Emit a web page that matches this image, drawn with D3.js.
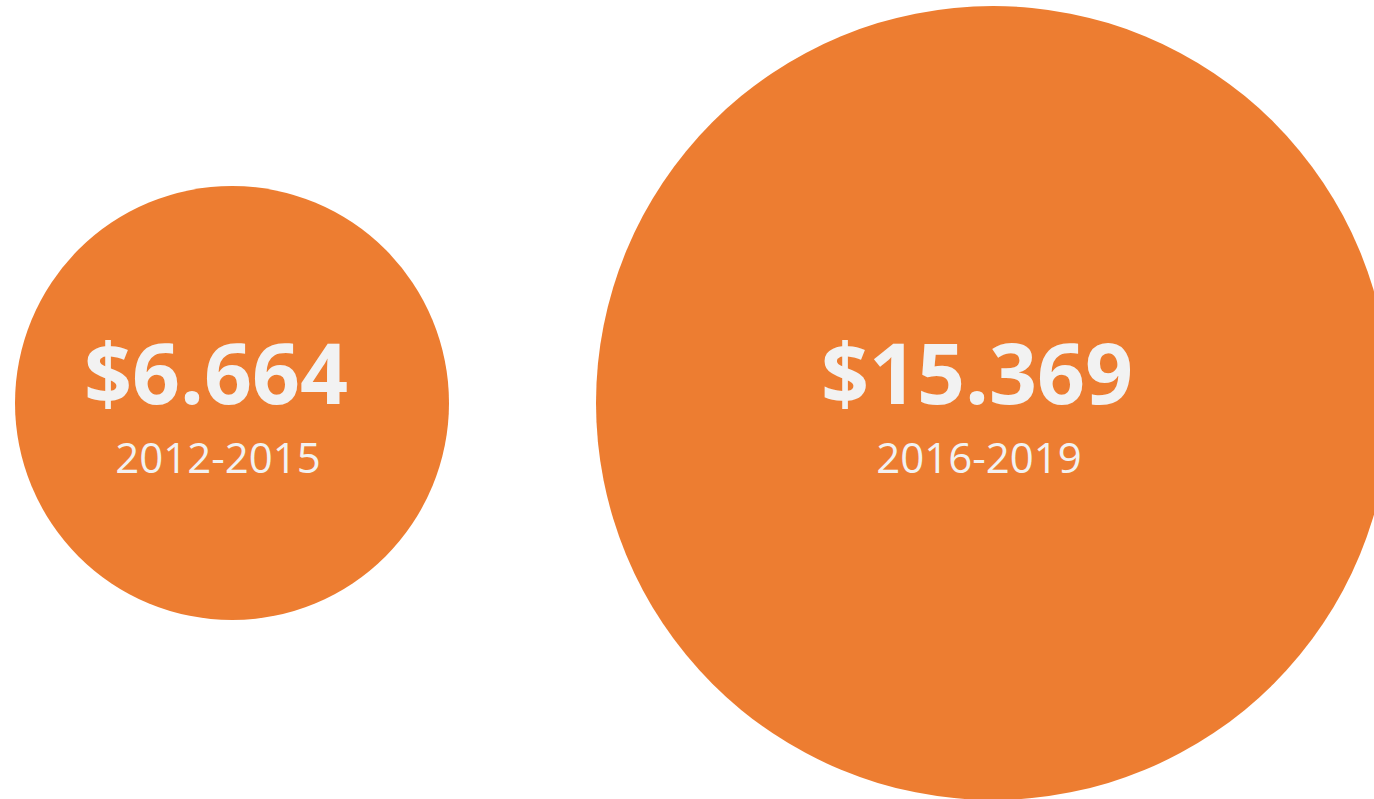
<!DOCTYPE html>
<html lang="en">
<head>
  <meta charset="UTF-8">
  <title>Bubbles</title>
  <script src="https://cdn.jsdelivr.net/npm/d3@7"></script>
  <style>
    html, body { margin: 0; padding: 0; background: #fff; overflow: hidden; }
    svg { display: block; }
  </style>
</head>
<body>
  <script>
    const periods = ["2012-2015", "2016-2019"];
    const amounts = [6.664, 15.369];
    const amountLabels = ["$6.664", "$15.369"];

    const width = 1374;
    const height = 799;

    const svg = d3.select("body")
                  .append("svg")
                  .attr("width", width)
                  .attr("height", height);

    const x = d3.scalePoint()
                .domain(periods)
                .range([232, 993]);

    const r = d3.scaleLinear()
                .domain(d3.extent(amounts))
                .range([217, 397]);

    const cy = 403;
    const data = periods.map((p, i) => ({ period: p, value: amounts[i], label: amountLabels[i] }));

    svg.selectAll("circle")
       .data(data)
       .enter().append("circle")
       .attr("cx", d => x(d.period))
       .attr("cy", cy)
       .attr("r", d => r(d.value))
       .attr("fill", "#ED7D31");

    // labels sit a bit left of the centre, like the original
    svg.selectAll("text.value")
       .data(data)
       .enter().append("text")
       .attr("class", "value")
       .attr("x", d => x(d.period) - 16)
       .attr("y", cy + 1)
       .attr("text-anchor", "middle")
       .attr("font-family", "'Open Sans', sans-serif")
       .attr("font-weight", "bold")
       .attr("font-size", "84px")
       .attr("fill", "#F2F2F2")
       .text(d => d.label);

    svg.selectAll("text.period")
       .data(data)
       .enter().append("text")
       .attr("class", "period")
       .attr("x", d => x(d.period) - 14)
       .attr("y", cy + 70)
       .attr("text-anchor", "middle")
       .attr("font-family", "'Open Sans', sans-serif")
       .attr("font-size", "42px")
       .attr("fill", "#F2F2F2")
       .text(d => d.period);
  </script>
</body>
</html>
